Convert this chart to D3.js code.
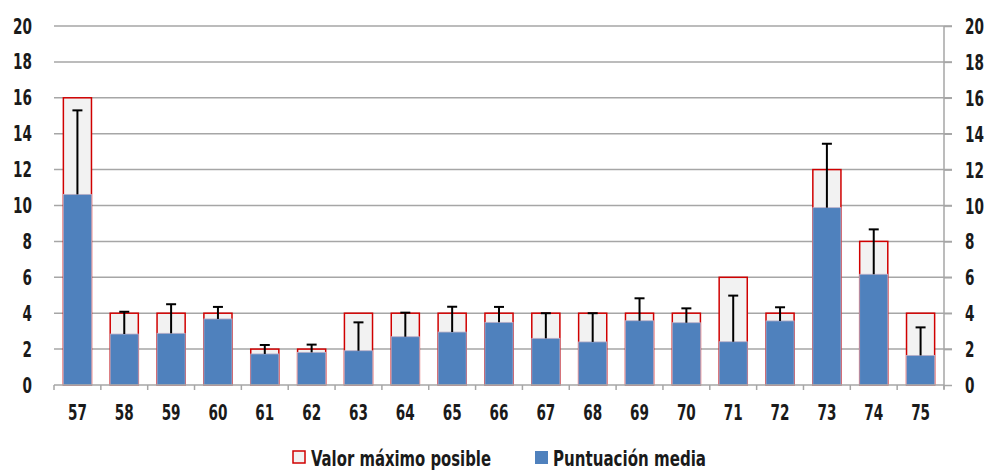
<!DOCTYPE html>
<html><head><meta charset="utf-8">
<script src="https://cdn.jsdelivr.net/npm/d3@7"></script>
<style>
body{margin:0;background:#fff;}
text{font-family:"DejaVu Sans Condensed","DejaVu Sans",sans-serif;font-stretch:condensed;font-weight:bold;fill:#1a1a1a;}
</style></head>
<body><svg id="c" width="987" height="471"></svg>
<script>
const categories = ["57","58","59","60","61","62","63","64","65","66","67","68","69","70","71","72","73","74","75"];
const maxValues = [16,4,4,4,2,2,4,4,4,4,4,4,4,4,6,4,12,8,4];
const meanValues = [10.62,2.84,2.88,3.68,1.73,1.82,1.91,2.69,2.95,3.49,2.60,2.40,3.58,3.47,2.41,3.57,9.88,6.17,1.65];
const errorTops = [15.30,4.08,4.50,4.35,2.23,2.25,3.49,4.03,4.36,4.35,4.00,4.00,4.83,4.27,4.98,4.33,13.44,8.67,3.21];
const yTicks = [0,2,4,6,8,10,12,14,16,18,20];
const legendLabels = ["Valor máximo posible","Puntuación media"];

const svg = d3.select("#c");
const L = 54, R = 944, T = 26, B = 385;
const FS = 21, SX = 0.72;
const x = d3.scaleBand().domain(categories).range([L, R]).paddingInner(0.4).paddingOuter(0.2);
const xb = d3.scaleBand().domain(categories).range([L, R]);
const y = d3.scaleLinear().domain([0,20]).range([B, T]);

function squeeze(sel){
  sel.each(function(){
    const t = d3.select(this);
    const px = +t.attr("x") || 0, py = +t.attr("y") || 0;
    t.attr("x",0).attr("y",0).attr("transform",`translate(${px},${py}) scale(${SX},1)`);
  });
}

// gridlines
svg.append("g").selectAll("line").data(yTicks.filter(d=>d>0)).join("line")
  .attr("x1", L).attr("x2", R+8).attr("y1", d=>y(d)).attr("y2", d=>y(d))
  .attr("stroke", "#a6a6a6").attr("stroke-width", 1.5);

// left labels
svg.append("g").selectAll("text").data(yTicks).join("text")
  .attr("x", 32).attr("y", d=>y(d)).attr("dy","0.36em").attr("text-anchor","end")
  .attr("font-size", FS).text(d=>d).call(squeeze);
// right axis
const ra = svg.append("g").attr("transform", `translate(${R},0)`)
  .call(d3.axisRight(y).tickValues(yTicks).tickSize(8).tickPadding(13).tickFormat(d3.format("d")));
ra.select(".domain").attr("stroke","#a6a6a6").attr("stroke-width",1.5).attr("d", `M0,${T}V${B+4}`);
ra.selectAll(".tick line").attr("stroke","#a6a6a6").attr("stroke-width",1.5);
ra.selectAll(".tick text").attr("font-size",FS).attr("fill","#1a1a1a").attr("font-family",null)
  .attr("text-anchor","start").attr("x",21).attr("dy","0.36em").call(squeeze);

// max boxes
svg.append("g").selectAll("rect").data(categories).join("rect")
  .attr("x", d=>x(d)).attr("width", x.bandwidth())
  .attr("y", (d,i)=>y(maxValues[i])).attr("height", (d,i)=>B - y(maxValues[i]))
  .attr("fill","#f2f2f2").attr("stroke","#d00000").attr("stroke-width",1.5);

// mean bars
svg.append("g").selectAll("rect").data(categories).join("rect")
  .attr("x", d=>x(d)).attr("width", x.bandwidth())
  .attr("y", (d,i)=>y(meanValues[i])).attr("height", (d,i)=>B - y(meanValues[i]))
  .attr("fill","#4f81bd").attr("stroke","#bcb0c8").attr("stroke-width",0.8);

// error bars
const eg = svg.append("g").attr("stroke","#000").attr("stroke-width",2);
categories.forEach((c,i)=>{
  const cx = x(c) + x.bandwidth()/2;
  eg.append("line").attr("x1",cx).attr("x2",cx).attr("y1",y(meanValues[i])).attr("y2",y(errorTops[i]));
  eg.append("line").attr("x1",cx-5).attr("x2",cx+5).attr("y1",y(errorTops[i])).attr("y2",y(errorTops[i]));
});

// x axis
const xa = svg.append("g").attr("transform", `translate(0,${B})`);
xa.append("line").attr("x1",L).attr("x2",R).attr("y1",0).attr("y2",0).attr("stroke","#a6a6a6").attr("stroke-width",1.5);
xa.selectAll("line.t").data(categories.concat(["end"])).join("line").attr("class","t")
  .attr("x1",(d,i)=> i<categories.length ? xb(d) : R).attr("x2",(d,i)=> i<categories.length ? xb(d) : R)
  .attr("y1",0).attr("y2",5).attr("stroke","#a6a6a6").attr("stroke-width",1.5);
xa.selectAll("text").data(categories).join("text")
  .attr("x", d=>xb(d)+xb.bandwidth()/2).attr("y", 35).attr("text-anchor","middle")
  .attr("font-size",FS).text(d=>d).call(squeeze);

// legend
const lg = svg.append("g");
lg.append("rect").attr("x",293).attr("y",451).attr("width",12).attr("height",12).attr("fill","#f2f2f2").attr("stroke","#d00000").attr("stroke-width",1.5);
lg.append("text").attr("x",311).attr("y",458).attr("dy","0.36em").attr("font-size",FS)
  .attr("textLength",180).attr("lengthAdjust","spacingAndGlyphs").text(legendLabels[0]);
lg.append("rect").attr("x",535).attr("y",451).attr("width",13).attr("height",13).attr("fill","#4f81bd");
lg.append("text").attr("x",553).attr("y",458).attr("dy","0.36em").attr("font-size",FS)
  .attr("textLength",153).attr("lengthAdjust","spacingAndGlyphs").text(legendLabels[1]);
</script></body></html>
